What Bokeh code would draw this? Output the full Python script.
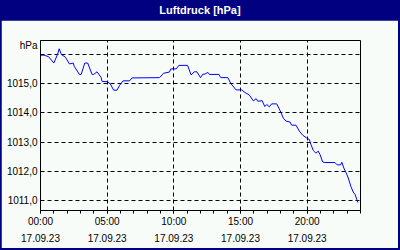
from bokeh.plotting import figure
from bokeh.models import Range1d, FixedTicker, Div
from bokeh.layouts import column
from bokeh.embed import file_html
from bokeh.resources import INLINE

# ---------------- data ----------------
title_text = "Luftdruck [hPa]"

hours = [0.0, 0.25, 0.6, 1.0, 1.29, 1.40, 1.57, 1.87, 2.17, 2.45, 2.54, 2.92, 3.05,
         3.32, 3.54, 3.87, 3.99, 4.24, 4.54, 4.62, 5.04, 5.24, 5.49, 5.74, 5.91,
         6.19, 6.68, 6.86, 8.93, 9.23, 9.66, 9.78, 10.18, 10.38, 11.03, 11.30,
         11.53, 11.73, 12.0, 12.18, 12.33, 12.55, 12.67, 13.38, 13.53, 14.05,
         14.27, 14.67, 15.10, 15.27, 15.67, 15.97, 16.17, 16.30, 16.62, 16.82,
         16.97, 17.16, 17.34, 17.72, 18.02, 18.21, 18.41, 18.71, 18.84, 19.16,
         19.41, 19.66, 19.96, 20.16, 20.28, 20.46, 20.66, 20.83, 20.96, 21.16,
         21.33, 22.08, 22.25, 22.51, 22.60, 22.75, 22.96, 23.08, 23.28, 23.45,
         23.60, 23.73, 23.80]

pressure_hpa = [1015.98, 1015.98, 1015.93, 1015.71, 1016.02, 1016.20, 1016.00,
                1015.91, 1015.68, 1015.71, 1015.59, 1015.32, 1015.32, 1015.71,
                1015.71, 1015.32, 1015.32, 1015.41, 1015.22, 1015.08, 1015.07,
                1014.99, 1014.78, 1014.78, 1014.93, 1015.10, 1015.10, 1015.20,
                1015.21, 1015.36, 1015.40, 1015.51, 1015.51, 1015.63, 1015.63,
                1015.30, 1015.41, 1015.41, 1015.21, 1015.33, 1015.33, 1015.39,
                1015.32, 1015.32, 1015.21, 1015.21, 1015.01, 1014.79, 1014.79,
                1014.72, 1014.61, 1014.41, 1014.49, 1014.40, 1014.42, 1014.22,
                1014.29, 1014.21, 1014.31, 1014.31, 1014.03, 1013.82, 1013.72,
                1013.69, 1013.58, 1013.58, 1013.38, 1013.24, 1013.14, 1013.09,
                1012.92, 1012.71, 1012.62, 1012.69, 1012.58, 1012.32, 1012.30,
                1012.30, 1012.22, 1012.22, 1012.31, 1012.11, 1011.91, 1011.77,
                1011.48, 1011.29, 1011.20, 1011.02, 1010.93]

x_tick_hours = [0, 5, 10, 15, 20]
x_tick_labels = ["00:00\n17.09.23", "05:00\n17.09.23", "10:00\n17.09.23",
                 "15:00\n17.09.23", "20:00\n17.09.23"]
x_minor_hours = list(range(0, 25))
x_grid_hours = [5, 10, 15, 20]

y_tick_values = [1011, 1012, 1013, 1014, 1015]
y_tick_labels = ["1011,0", "1012,0", "1013,0", "1014,0", "1015,0"]
y_grid_values = [1011, 1012, 1013, 1014, 1015, 1016]
unit_label = "hPa"
unit_label_pos = 1016.31

x_start, x_end = 0, 24
y_start, y_end = 1010.655, 1016.483

# ---------------- style ----------------
BG = "#f8fcf8"
NAVY = "#000080"
FONT = "Liberation Sans"

p = figure(width=397, height=228, output_backend="svg", toolbar_location=None,
           x_range=Range1d(x_start, x_end), y_range=Range1d(y_start, y_end),
           min_border_left=39, min_border_right=38, min_border_top=20,
           min_border_bottom=38, background_fill_color=BG, border_fill_color=BG,
           outline_line_color="black", outline_line_width=1,
           margin=(0, 2, 2, 1))

p.line(hours, pressure_hpa, line_color="#0000ff", line_width=1)

# grids
p.xgrid.ticker = FixedTicker(ticks=x_grid_hours)
p.ygrid.ticker = FixedTicker(ticks=y_grid_values)
for g in (p.xgrid, p.ygrid):
    g.grid_line_color = "black"
    g.grid_line_dash = "4 3"
    g.grid_line_width = 1

# x axis
xa = p.xaxis[0]
xa.ticker = FixedTicker(ticks=x_tick_hours, minor_ticks=x_minor_hours)
xa.major_label_overrides = dict(zip(x_tick_hours, x_tick_labels))
xa.major_tick_in = 0
xa.major_tick_out = 3
xa.minor_tick_in = 0
xa.minor_tick_out = 3
xa.axis_line_color = "black"
xa.major_tick_line_color = "black"
xa.minor_tick_line_color = "black"
xa.major_label_standoff = 2
xa.major_label_text_font = FONT
xa.major_label_text_font_size = "10px"
xa.major_label_text_color = "black"
xa.major_label_text_line_height = 1.55

# y axis
ya = p.yaxis[0]
y_ticks_all = y_tick_values + [unit_label_pos]
ya.ticker = FixedTicker(ticks=y_ticks_all, minor_ticks=[])
overrides = dict(zip(y_tick_values, y_tick_labels))
overrides[unit_label_pos] = unit_label
ya.major_label_overrides = overrides
ya.major_tick_in = 0
ya.major_tick_out = 0
ya.minor_tick_in = 0
ya.minor_tick_out = 0
ya.axis_line_color = "black"
ya.major_label_standoff = 3
ya.major_label_text_font = FONT
ya.major_label_text_font_size = "10px"
ya.major_label_text_color = "black"

title = Div(text=title_text, width=400, height=20, margin=0,
            styles={"background-color": NAVY, "color": "white",
                    "font-family": "'Liberation Sans', sans-serif",
                    "font-weight": "bold", "font-size": "11px",
                    "text-align": "center", "line-height": "20px"})

layout = column(title, p, spacing=0, margin=0, styles={"background-color": NAVY})

open("out.html", "w").write(file_html(layout, INLINE))
